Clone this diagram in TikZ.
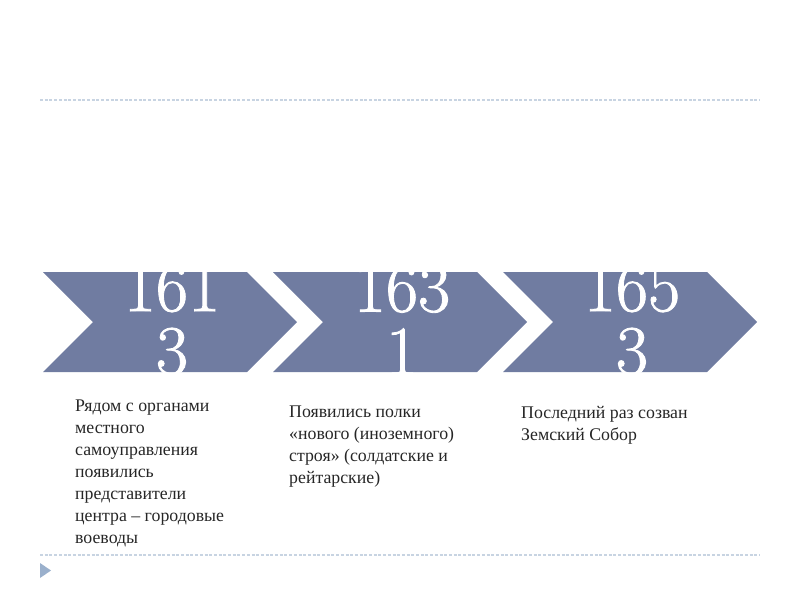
\documentclass[tikz,border=0pt]{standalone}
\usepackage{fontspec}
\setmainfont{Liberation Serif}
\newfontfamily\digitfont[FakeBold=1.2]{Latin Modern Roman}
\definecolor{chev}{RGB}{112,124,161}
\definecolor{dashc}{RGB}{200,212,226}
\definecolor{tri}{RGB}{154,176,204}
\definecolor{txt}{RGB}{38,38,38}
\tikzset{
  chevron/.style={fill=chev, draw=none},
  year/.style={text=white, font=\digitfont\fontsize{70}{63}\selectfont, align=center, inner sep=0pt},
  desc/.style={text=txt, font=\fontsize{17.8}{22}\selectfont, align=left, anchor=north west, inner sep=0pt},
  sep/.style={dashc, line width=1.5pt, dash pattern=on 3pt off 1.7pt}
}
\begin{document}
\begin{tikzpicture}[x=1pt,y=-1pt]
\useasboundingbox (0,0) rectangle (800,600);
% dashed separators
\coordinate (t1) at (40,100);
\coordinate (t2) at (760,100);
\coordinate (b1) at (40,555);
\coordinate (b2) at (760,555);
\draw[sep] (t1) -- (t2);
\draw[sep] (b1) -- (b2);
% bottom-left triangle
\fill[tri] (40,563) -- (51,570.5) -- (40,578) -- cycle;
% chevrons
\foreach \i/\x in {1/43, 2/273, 3/503}{
  \fill[chevron] (\x,272) -- (\x+204,272) -- (\x+254,322) -- (\x+204,372) -- (\x,372) -- (\x+50,322) -- cycle;
}
\node[year] (y1) at (172,320) {161\\3};
\node[year] (y2) at (402,320) {163\\1};
\node[year] (y3) at (632,320) {165\\3};
% descriptions
\node[desc] (d1) at (75,400) {Рядом с органами\\местного\\самоуправления\\появились\\представители\\центра – городовые\\воеводы};
\node[desc] (d2) at (289,406) {Появились полки\\«нового (иноземного)\\строя» (солдатские и\\рейтарские)};
\node[desc] (d3) at (521,406) {Последний раз созван\\Земский Собор};
\end{tikzpicture}
\end{document}
